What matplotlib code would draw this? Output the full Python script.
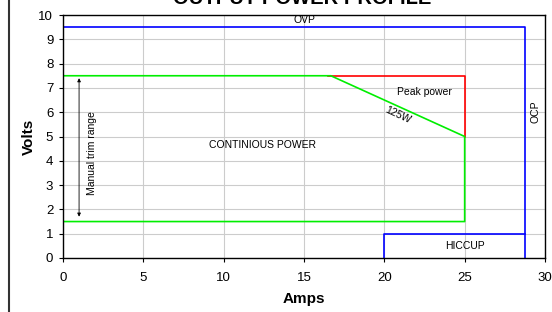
import matplotlib
matplotlib.use("Agg")
import matplotlib.pyplot as plt
from matplotlib.lines import Line2D

plt.rcParams['font.family'] = ['Liberation Sans', 'DejaVu Sans']

# Data
cont_x = [0, 16.67, 25, 25, 0]
cont_y = [7.5, 7.5, 5, 1.5, 1.5]
peak_x = [16.5, 25, 25]
peak_y = [7.5, 7.5, 5]
ovp_x = [0, 28.75, 28.75]
ovp_y = [9.5, 9.5, 0]
hiccup_x = [20, 20, 28.75]
hiccup_y = [0, 1, 1]
trim_x = 1.0
trim_lo, trim_hi = 1.7, 7.4
xticks = [0, 5, 10, 15, 20, 25, 30]
yticks = list(range(0, 11))

W, H = 552, 312
fig = plt.figure(figsize=(W/100, H/100), dpi=100)
ax = fig.add_axes([63/W, 1-258/H, (545-63)/W, (258-15)/H])

ax.plot(ovp_x, ovp_y, color='#0000ff', lw=1.2)
ax.plot(hiccup_x, hiccup_y, color='#0000ff', lw=1.2)
ax.plot(peak_x, peak_y, color='#ff0000', lw=1.2)
ax.plot(cont_x, cont_y, color='#00ee00', lw=1.2)

ax.annotate('', xy=(trim_x, trim_lo), xytext=(trim_x, trim_hi),
            arrowprops=dict(arrowstyle='<|-|>', color='black', lw=0.6,
                            mutation_scale=5, shrinkA=0, shrinkB=0))

fs = 7.5
ax.text(1.8, 4.3, 'Manual trim range', rotation=90, ha='center', va='center', fontsize=fs)
ax.text(12.4, 4.65, 'CONTINIOUS POWER', ha='center', va='center', fontsize=fs)
ax.text(22.5, 6.85, 'Peak power', ha='center', va='center', fontsize=fs)
ax.text(20.85, 5.9, '125W', rotation=-25, ha='center', va='center', fontsize=fs)
ax.text(15.0, 9.78, 'OVP', ha='center', va='center', fontsize=fs)
ax.text(29.4, 6.0, 'OCP', rotation=90, ha='center', va='center', fontsize=fs)
ax.text(25.0, 0.5, 'HICCUP', ha='center', va='center', fontsize=fs)

ax.set_xlim(0, 30)
ax.set_ylim(0, 10)
ax.set_xticks(xticks)
ax.set_yticks(yticks)
ax.grid(True, color='#cccccc', lw=0.8)
ax.set_axisbelow(True)
for s in ax.spines.values():
    s.set_color('black')
    s.set_linewidth(1.0)
ax.tick_params(labelsize=9.5, length=3, width=0.8, direction='out')
ax.tick_params(axis='x', pad=7)
ax.tick_params(axis='y', pad=4)
ax.set_xlabel('Amps', fontsize=11, fontweight='bold', labelpad=6)
ax.set_ylabel('Volts', fontsize=11, fontweight='bold', labelpad=2)

fig.text(302/W, 1 + 2/H, 'OUTPUT POWER PROFILE', ha='center', va='center',
         fontsize=14.5, fontweight='bold')
fig.add_artist(Line2D([8.5/W, 8.5/W], [0, 1], color='#333333', lw=1.5,
                      transform=fig.transFigure))

fig.savefig('out.png', dpi=100)
